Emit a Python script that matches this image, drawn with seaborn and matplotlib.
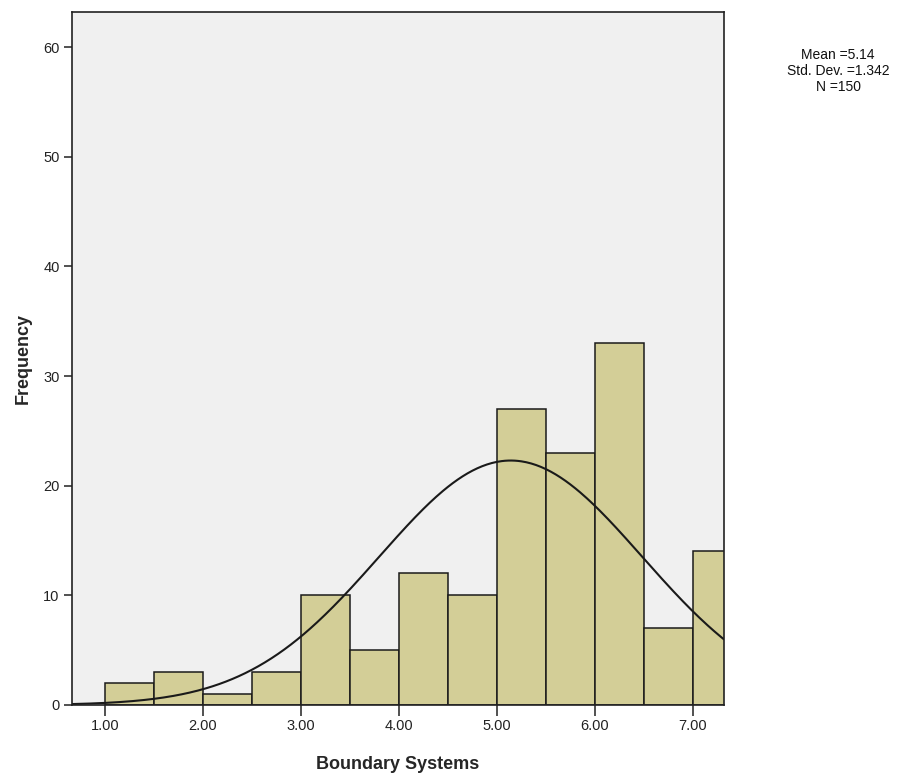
import numpy as np
import pandas as pd
import matplotlib
matplotlib.use("Agg")
import matplotlib.pyplot as plt
import seaborn as sns

# Data
bin_edges = [1.0, 1.5, 2.0, 2.5, 3.0, 3.5, 4.0, 4.5, 5.0, 5.5, 6.0, 6.5, 7.0, 7.5]
counts = [2, 3, 1, 3, 10, 5, 12, 10, 27, 23, 33, 7, 14]
mean_val = 5.14
std_val = 1.342
n_val = 150
x_ticks = [1.0, 2.0, 3.0, 4.0, 5.0, 6.0, 7.0]
x_tick_labels = ["1.00", "2.00", "3.00", "4.00", "5.00", "6.00", "7.00"]
y_ticks = [0, 10, 20, 30, 40, 50, 60]

sns.set_theme(style="white")
plt.rcParams['font.family'] = ['Liberation Sans', 'DejaVu Sans']

centers = [(a + b) / 2 for a, b in zip(bin_edges[:-1], bin_edges[1:])]
df = pd.DataFrame({"x": centers, "w": counts})

fig = plt.figure(figsize=(9.05, 7.76), dpi=100)
ax = fig.add_axes([0.0796, 0.0915, 0.7204, 0.893])
ax.set_facecolor("#F0F0F0")

sns.histplot(data=df, x="x", weights="w", bins=bin_edges, ax=ax,
             color="#D3CE97", alpha=1.0, edgecolor="#1a1a1a", linewidth=1.1)

xs = np.linspace(0.663, 7.317, 400)
binw = 0.5
ys = n_val * binw * np.exp(-0.5 * ((xs - mean_val) / std_val) ** 2) / (std_val * np.sqrt(2 * np.pi))
sns.lineplot(x=xs, y=ys, ax=ax, color="#1a1a1a", linewidth=1.5)

ax.set_xlim(0.663, 7.317)
ax.set_ylim(0, 63.2)
ax.set_xticks(x_ticks)
ax.set_xticklabels(x_tick_labels, fontsize=10.5, color="#222222")
ax.set_yticks(y_ticks)
ax.set_yticklabels([str(v) for v in y_ticks], fontsize=10.5, color="#222222")
ax.tick_params(axis="x", direction="out", length=8, width=1.2, color="#333333", pad=2, bottom=True)
ax.tick_params(axis="y", direction="out", length=6, width=1.2, color="#333333", pad=3, left=True)
for s in ax.spines.values():
    s.set_color("#222222")
    s.set_linewidth(1.2)

ax.set_xlabel("Boundary Systems", fontsize=13, fontweight="bold", labelpad=17)
ax.set_ylabel("Frequency", fontsize=13, fontweight="bold", labelpad=8)

fig.text(0.926, 0.9085, f"Mean ={mean_val}\nStd. Dev. ={std_val}\nN ={n_val}",
         ha="center", va="center", fontsize=10, linespacing=1.15, color="#111111")

fig.savefig("out.png", dpi=100)
